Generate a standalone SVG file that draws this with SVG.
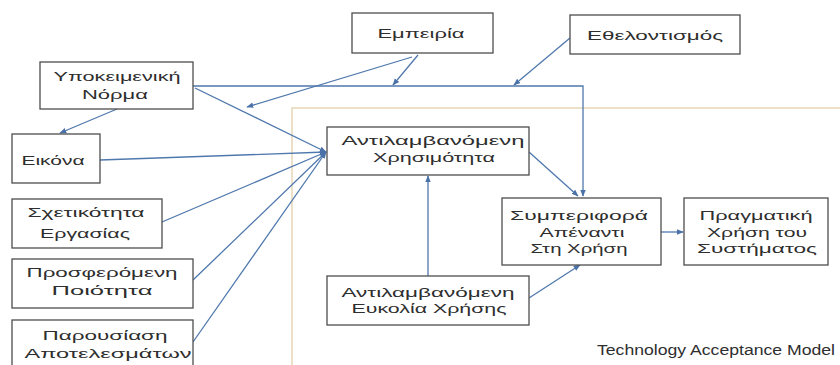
<svg xmlns="http://www.w3.org/2000/svg" width="840" height="365" viewBox="0 0 840 365">
<defs>
<marker id="ah" viewBox="0 0 10 10" refX="9" refY="5" markerWidth="7" markerHeight="7" markerUnits="userSpaceOnUse" orient="auto">
<path d="M0,1 L10,5 L0,9 z" fill="#4a72a8"/>
</marker>
<style>
.box{fill:#fff;stroke:#4d4d4d;stroke-width:1.3}
.t{font-family:"Liberation Sans","Noto Sans",sans-serif;font-size:13px;fill:#2e2e2e;text-anchor:middle}
.c{fill:none;stroke:#4f78ad;stroke-width:1.3}
.frame{fill:none;stroke:#e6d6b8;stroke-width:1.5}
</style>
</defs>
<rect width="840" height="365" fill="#fff"/>
<g id="frame">
<path class="frame" d="M292,365 V108 H840"/>
<text class="t" x="716" y="355" textLength="238" lengthAdjust="spacingAndGlyphs" style="font-size:14px">Technology Acceptance Model</text>
</g>
<g id="connectors">
<path class="c" d="M193,86 H583 V196" marker-end="url(#ah)"/>
<path class="c" d="M529,152 L578,196" marker-end="url(#ah)"/>
<path class="c" d="M418,55 L393,85" marker-end="url(#ah)"/>
<path class="c" d="M412,57 L247,107" marker-end="url(#ah)"/>
<path class="c" d="M570,38 L514,85" marker-end="url(#ah)"/>
<path class="c" d="M195,88 L326,152" marker-end="url(#ah)"/>
<path class="c" d="M117,109 L60,133" marker-end="url(#ah)"/>
<path class="c" d="M100,160 L326,152" marker-end="url(#ah)"/>
<path class="c" d="M162,222 L326,152" marker-end="url(#ah)"/>
<path class="c" d="M193,280 L326,152" marker-end="url(#ah)"/>
<path class="c" d="M193,342 L326,152" marker-end="url(#ah)"/>
<path class="c" d="M428,276 L428,176" marker-end="url(#ah)"/>
<path class="c" d="M529,298 L580,265" marker-end="url(#ah)"/>
<path class="c" d="M661,232 L683,232" marker-end="url(#ah)"/>
</g>
<g id="ypokeimeniki">
<rect class="box" x="40" y="62" width="153" height="47"/>
<text class="t" x="117" y="81" textLength="127" lengthAdjust="spacingAndGlyphs">Υποκειμενική</text>
<text class="t" x="115" y="99" textLength="66" lengthAdjust="spacingAndGlyphs">Νόρμα</text>
</g>
<g id="eikona">
<rect class="box" x="12" y="134" width="88" height="49"/>
<text class="t" x="53" y="165" textLength="63" lengthAdjust="spacingAndGlyphs">Εικόνα</text>
</g>
<g id="sxetikotita">
<rect class="box" x="12" y="199" width="150" height="49"/>
<text class="t" x="86" y="217" textLength="117" lengthAdjust="spacingAndGlyphs">Σχετικότητα</text>
<text class="t" x="85" y="238" textLength="90" lengthAdjust="spacingAndGlyphs">Εργασίας</text>
</g>
<g id="prosferomeni">
<rect class="box" x="12" y="259" width="181" height="49"/>
<text class="t" x="102" y="277" textLength="151" lengthAdjust="spacingAndGlyphs">Προσφερόμενη</text>
<text class="t" x="102" y="295" textLength="101" lengthAdjust="spacingAndGlyphs">Ποιότητα</text>
</g>
<g id="parousiasi">
<rect class="box" x="12" y="320" width="181" height="52"/>
<text class="t" x="105" y="340" textLength="125" lengthAdjust="spacingAndGlyphs">Παρουσίαση</text>
<text class="t" x="108" y="358" textLength="167" lengthAdjust="spacingAndGlyphs">Αποτελεσμάτων</text>
</g>
<g id="empeiria">
<rect class="box" x="352" y="13" width="141" height="40"/>
<text class="t" x="421" y="38" textLength="87" lengthAdjust="spacingAndGlyphs">Εμπειρία</text>
</g>
<g id="ethelontismos">
<rect class="box" x="570" y="15" width="170" height="39"/>
<text class="t" x="655" y="40" textLength="136" lengthAdjust="spacingAndGlyphs">Εθελοντισμός</text>
</g>
<g id="xrisimotita">
<rect class="box" x="327" y="127" width="202" height="48"/>
<text class="t" x="433" y="145" textLength="183" lengthAdjust="spacingAndGlyphs">Αντιλαμβανόμενη</text>
<text class="t" x="434" y="162" textLength="122" lengthAdjust="spacingAndGlyphs">Χρησιμότητα</text>
</g>
<g id="eukolia">
<rect class="box" x="327" y="276" width="202" height="49"/>
<text class="t" x="428" y="297" textLength="173" lengthAdjust="spacingAndGlyphs">Αντιλαμβανόμενη</text>
<text class="t" x="429" y="313" textLength="155" lengthAdjust="spacingAndGlyphs">Ευκολία Χρήσης</text>
</g>
<g id="symperifora">
<rect class="box" x="502" y="198" width="159" height="67"/>
<text class="t" x="579" y="220" textLength="138" lengthAdjust="spacingAndGlyphs">Συμπεριφορά</text>
<text class="t" x="582" y="237" textLength="85" lengthAdjust="spacingAndGlyphs">Απέναντι</text>
<text class="t" x="579" y="253" textLength="97" lengthAdjust="spacingAndGlyphs">Στη Χρήση</text>
</g>
<g id="pragmatiki">
<rect class="box" x="684" y="198" width="144" height="67"/>
<text class="t" x="756" y="220" textLength="113" lengthAdjust="spacingAndGlyphs">Πραγματική</text>
<text class="t" x="757" y="237" textLength="100" lengthAdjust="spacingAndGlyphs">Χρήση του</text>
<text class="t" x="757" y="253" textLength="120" lengthAdjust="spacingAndGlyphs">Συστήματος</text>
</g>
</svg>
